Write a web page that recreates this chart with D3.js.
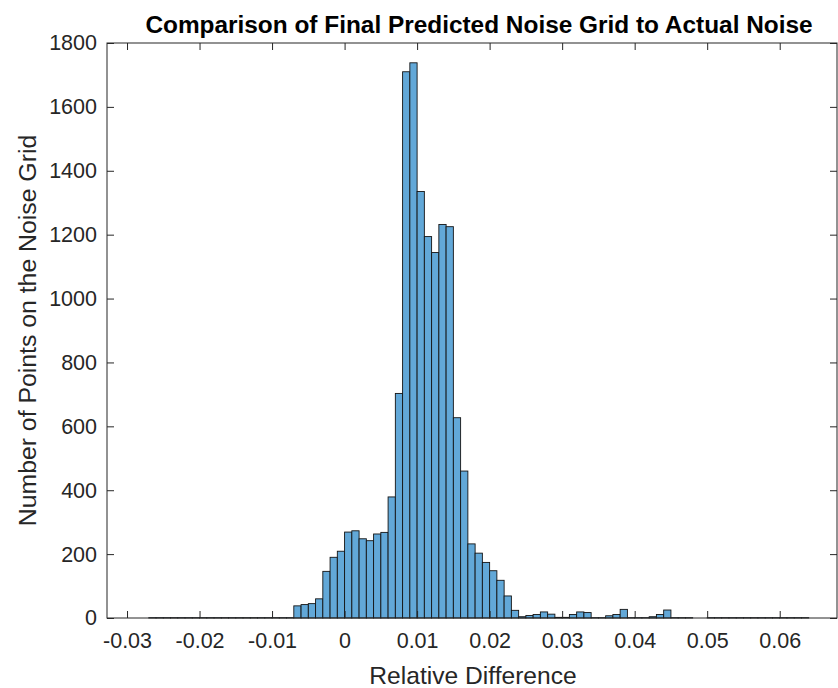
<!DOCTYPE html>
<html>
<head>
<meta charset="utf-8">
<script src="https://cdn.jsdelivr.net/npm/d3@7"></script>
<style>
  body { margin: 0; background: #fff; }
  svg { display: block; font-family: "Liberation Sans", Arial, sans-serif; }
</style>
</head>
<body>
<script>
// histogram bins: first lower edge and width, then the counts per bin
const binStart = -0.028
const binWidth = 0.001
const counts = [
  0, 1, 1, 1, 1, 1, 1, 1, 1, 1, 1, 1, 1, 1, 1, 1, 1, 1, 1, 1, 1,  // -0.028 .. -0.008
  38, 42, 45, 60, 146, 190, 209,                                  // -0.007 .. -0.001
  269, 273, 248, 242, 263, 268, 379, 703, 1710, 1738,             // 0.000 .. 0.009
  1335, 1194, 1144, 1232, 1225, 627, 460, 232, 203, 174,          // 0.010 .. 0.019
  148, 118, 69, 24, 4, 8, 11, 19, 12, 2,                          // 0.020 .. 0.029
  2, 11, 19, 17, 1, 1, 7, 11, 27, 1,                              // 0.030 .. 0.039
  1, 1, 4, 11, 25, 1, 1, 1, 0, 0,                                 // 0.040 .. 0.049
  1, 1, 1, 1, 1, 1, 1, 1, 1, 1, 1, 1, 1, 1                        // 0.050 .. 0.063
]
const xTicks = [-0.03, -0.02, -0.01, 0, 0.01, 0.02, 0.03, 0.04, 0.05, 0.06]
const yTicks = [0, 200, 400, 600, 800, 1000, 1200, 1400, 1600, 1800]
const xDomain = [-0.03276, 0.0679]
const yDomain = [0, 1800]

const titleText = "Comparison of Final Predicted Noise Grid to Actual Noise"
const xLabelText = "Relative Difference"
const yLabelText = "Number of Points on the Noise Grid"

const width = 838
const height = 688
const plotL = 107, plotR = 837, plotT = 43, plotB = 618
const axisColor = "#262626"

const bins = counts.map((c, i) => ({
  x0: binStart + i * binWidth,
  x1: binStart + (i + 1) * binWidth,
  count: c
}))

const x = d3.scaleLinear().domain(xDomain).range([plotL, plotR])
const y = d3.scaleLinear().domain(yDomain).range([plotB, plotT])

const svg = d3.select("body").append("svg")
  .attr("width", width)
  .attr("height", height)

// bars
svg.append("g")
  .selectAll("rect")
  .data(bins)
  .enter()
  .append("rect")
  .attr("x", d => x(d.x0))
  .attr("y", d => y(d.count))
  .attr("width", d => x(d.x1) - x(d.x0))
  .attr("height", d => y(0) - y(d.count))
  .attr("fill", "#62a8d8")
  .attr("stroke", "#141414")
  .attr("stroke-width", 0.9)

// box
svg.append("rect")
  .attr("x", plotL)
  .attr("y", plotT)
  .attr("width", plotR - plotL)
  .attr("height", plotB - plotT)
  .attr("fill", "none")
  .attr("stroke", axisColor)
  .attr("stroke-width", 1)

const tickLen = 7

// x ticks, inside, bottom and top
svg.append("g")
  .attr("transform", "translate(0," + plotB + ")")
  .call(d3.axisBottom(x).tickValues(xTicks).tickSizeInner(-tickLen).tickSizeOuter(0)
    .tickPadding(15).tickFormat(d => String(+d.toFixed(2))))
svg.append("g")
  .attr("transform", "translate(0," + plotT + ")")
  .call(d3.axisTop(x).tickValues(xTicks).tickSizeInner(-tickLen).tickSizeOuter(0).tickFormat(""))

// y ticks, inside, left and right
svg.append("g")
  .attr("transform", "translate(" + plotL + ",0)")
  .call(d3.axisLeft(y).tickValues(yTicks).tickSizeInner(-tickLen).tickSizeOuter(0)
    .tickPadding(10).tickFormat(d3.format("d")))
svg.append("g")
  .attr("transform", "translate(" + plotR + ",0)")
  .call(d3.axisRight(y).tickValues(yTicks).tickSizeInner(-tickLen).tickSizeOuter(0).tickFormat(""))

svg.selectAll(".domain").remove()
svg.selectAll(".tick line").attr("stroke", axisColor)
svg.selectAll(".tick text")
  .attr("fill", axisColor)
  .style("font-size", "21.5px")

// labels
svg.append("text")
  .attr("x", (plotL + plotR) / 2 + 7)
  .attr("y", 33)
  .attr("text-anchor", "middle")
  .style("font-size", "24.4px")
  .style("font-weight", "bold")
  .attr("fill", "#000")
  .text(titleText)

svg.append("text")
  .attr("x", (plotL + plotR) / 2 + 1)
  .attr("y", 684)
  .attr("text-anchor", "middle")
  .style("font-size", "24.6px")
  .attr("fill", axisColor)
  .text(xLabelText)

svg.append("text")
  .attr("transform", "translate(27," + (plotT + plotB) / 2 + ") rotate(-90)")
  .attr("dy", "0.35em")
  .attr("text-anchor", "middle")
  .style("font-size", "24.8px")
  .attr("fill", axisColor)
  .text(yLabelText)
</script>
</body>
</html>
